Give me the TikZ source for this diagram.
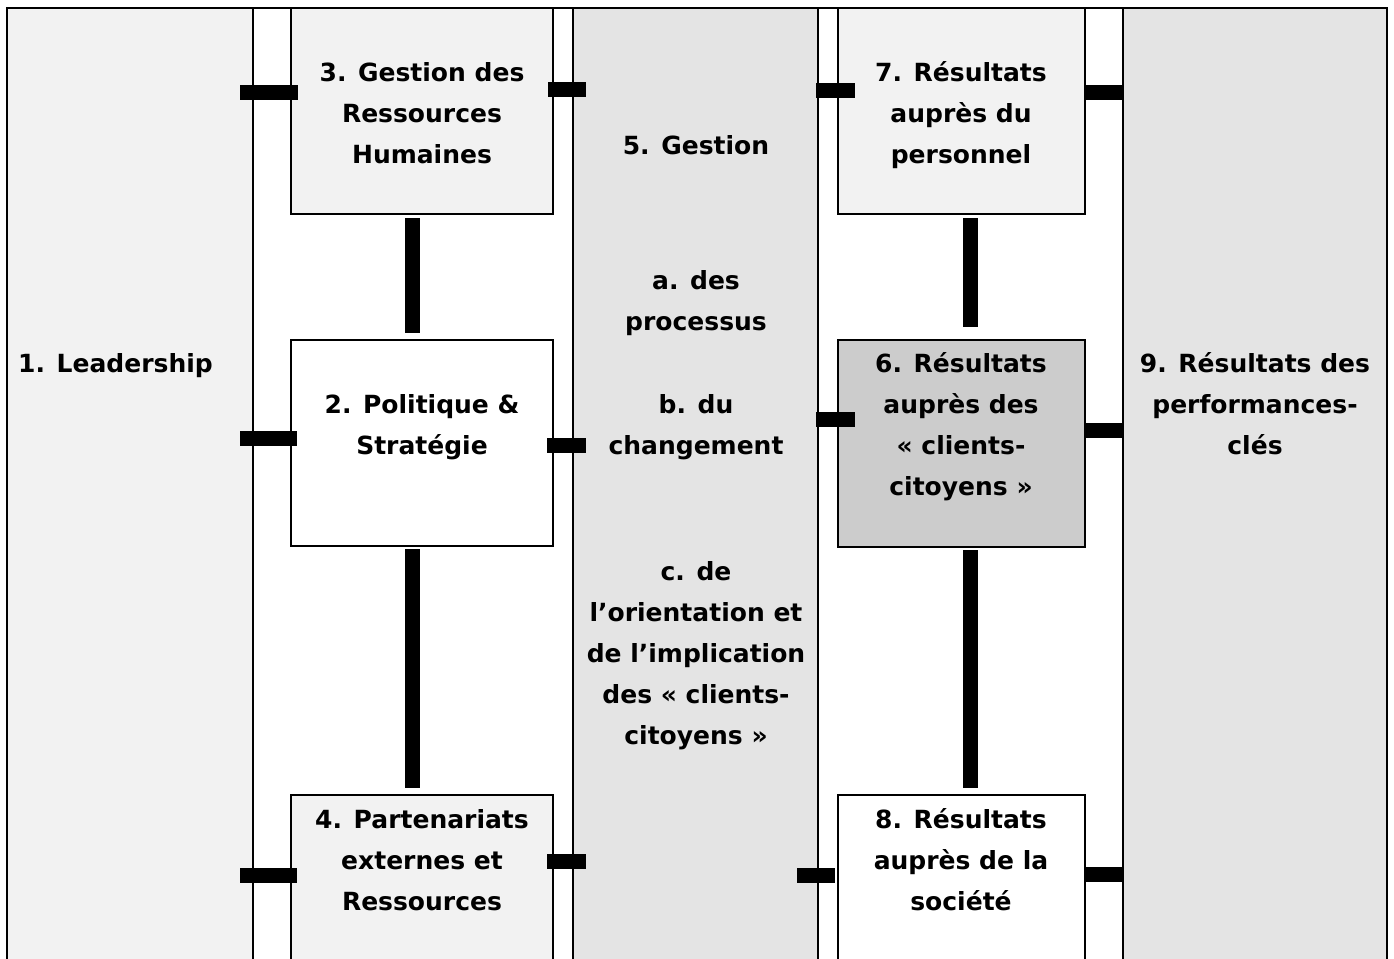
\documentclass[tikz,border=0pt]{standalone}
\usepackage{fontspec}
\setmainfont{DejaVu Sans}
\usetikzlibrary{calc}
\definecolor{lightgr}{HTML}{F2F2F2}
\definecolor{midgr}{HTML}{E4E4E4}
\definecolor{darkgr}{HTML}{CCCCCC}
\begin{document}
\begin{tikzpicture}[x=1pt,y=-1pt,
  panel/.style={draw=black, line width=2.5pt, anchor=north west, inner sep=0pt, outer sep=0pt},
  bar/.style={draw=black, line width=15pt, line cap=butt},
  lbl/.style={align=center, inner sep=0pt, font=\fontsize{25}{41}\selectfont\bfseries}]
\useasboundingbox (0,0) rectangle (1394,958);
\clip (0,0) rectangle (1394,958);
\fill[white] (0,0) rectangle (1394,958);
% columns
\node[panel, fill=lightgr, minimum width=246pt, minimum height=980pt] (col1) at (7,8) {};
\node[panel, fill=midgr, minimum width=245pt, minimum height=980pt] (col3) at (573,8) {};
\node[panel, fill=midgr, minimum width=264pt, minimum height=980pt] (col9) at (1123,8) {};
% top edges of the white bands between columns
\draw[black, line width=2.5pt] (col1.north east) -- (col3.north west);
\draw[black, line width=2.5pt] (col3.north east) -- (col9.north west);
% boxes
\node[panel, fill=lightgr, minimum width=262pt, minimum height=206pt] (b3) at (291,8) {};
\node[panel, fill=white, minimum width=262pt, minimum height=206pt] (b2) at (291,340) {};
\node[panel, fill=lightgr, minimum width=262pt, minimum height=200pt] (b4) at (291,795) {};
\node[panel, fill=lightgr, minimum width=247pt, minimum height=206pt] (b7) at (838,8) {};
\node[panel, fill=darkgr, minimum width=247pt, minimum height=207pt] (b6) at (838,340) {};
\node[panel, fill=white, minimum width=247pt, minimum height=200pt] (b8) at (838,795) {};
% connectors (left group)
\draw[bar] ($(col1.east |- 0,92)+(-13,0)$) -- ($(b3.west |- 0,92)+(7,0)$);
\draw[bar] ($(b3.east |- 0,89)+(-5,0)$) -- ($(col3.west |- 0,89)+(13,0)$);
\draw[bar] ($(b3.south)+(-9.5,4)$) -- ($(b2.north)+(-9.5,-7)$);
\draw[bar] ($(col1.east |- 0,438.5)+(-13,0)$) -- ($(b2.west |- 0,438.5)+(6,0)$);
\draw[bar] ($(b2.east |- 0,445)+(-6,0)$) -- ($(col3.west |- 0,445)+(13,0)$);
\draw[bar] ($(b2.south)+(-9.5,3)$) -- ($(b4.north)+(-9.5,-7)$);
\draw[bar] ($(col1.east |- 0,875)+(-13,0)$) -- ($(b4.west |- 0,875)+(6,0)$);
\draw[bar] ($(b4.east |- 0,861.5)+(-6,0)$) -- ($(col3.west |- 0,861.5)+(13,0)$);
% connectors (right group)
\draw[bar] ($(col3.east |- 0,90)+(-2,0)$) -- ($(b7.west |- 0,90)+(17,0)$);
\draw[bar] (b7.east |- 0,92) -- (col9.west |- 0,92);
\draw[bar] ($(b7.south)+(8.5,4)$) -- ($(b6.north)+(8.5,-13)$);
\draw[bar] ($(col3.east |- 0,419.5)+(-2,0)$) -- ($(b6.west |- 0,419.5)+(17,0)$);
\draw[bar] (b6.east |- 0,430) -- (col9.west |- 0,430);
\draw[bar] ($(b6.south)+(8.5,3)$) -- ($(b8.north)+(8.5,-7)$);
\draw[bar] ($(col3.east |- 0,875)+(-21,0)$) -- ($(b8.west |- 0,875)+(-3,0)$);
\draw[bar] (b8.east |- 0,874) -- (col9.west |- 0,874);
% texts
\node[lbl, anchor=west] (t1) at (18,364.3) {\strut 1. Leadership};
\node[lbl] (t3) at (422,114.3) {\strut 3. Gestion des\\Ressources\\Humaines\strut};
\node[lbl] (t2) at (422,425.8) {\strut 2. Politique \&\\Stratégie\strut};
\node[lbl] (t4) at (422,861.3) {\strut 4. Partenariats\\externes et\\Ressources\strut};
\node[lbl] (t5) at (696,146.3) {\strut 5. Gestion};
\node[lbl] (ta) at (696,301.8) {\strut a. des\\processus\strut};
\node[lbl] (tb) at (696,425.8) {\strut b. du\\changement\strut};
\node[lbl] (tc) at (696,653.8) {\strut c. de\\l’orientation et\\de l’implication\\des « clients-\\citoyens »\strut};
\node[lbl] (t7) at (961,114.3) {\strut 7. Résultats\\auprès du\\personnel\strut};
\node[lbl] (t6) at (961,425.8) {\strut 6. Résultats\\auprès des\\« clients-\\citoyens »\strut};
\node[lbl] (t8) at (961,861.3) {\strut 8. Résultats\\auprès de la\\société\strut};
\node[lbl] (t9) at (1255,405.3) {\strut 9. Résultats des\\performances-\\clés\strut};
\end{tikzpicture}
\end{document}
